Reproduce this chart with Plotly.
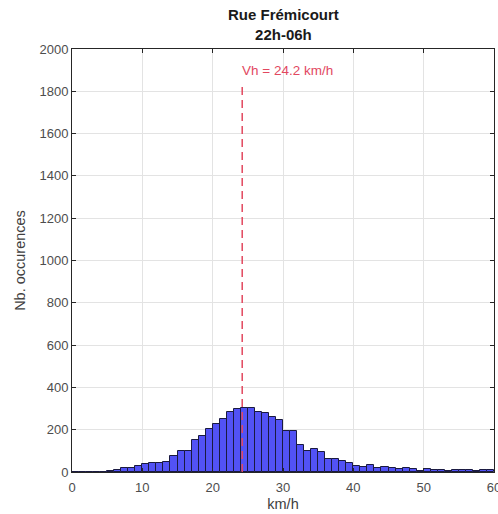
import plotly.graph_objects as go

bin_edges_left = list(range(0, 60))
counts = [0, 0, 0, 0, 1, 5, 10, 17, 18, 28,
          36, 42, 43, 48, 76, 98, 101, 151, 169, 203,
          226, 250, 283, 298, 301, 301, 283, 280, 258, 245,
          195, 195, 127, 97, 111, 94, 60, 60, 54, 41,
          27, 22, 33, 20, 24, 19, 14, 19, 16, 6,
          16, 11, 9, 5, 9, 9, 9, 6, 11, 11]
bin_width = 1
vh = 24.2
vh_line_top = 1840
vh_label = "Vh = 24.2 km/h"
title_lines = ["Rue Frémicourt", "22h-06h"]
x_ticks = [0, 10, 20, 30, 40, 50, 60]
y_ticks = [0, 200, 400, 600, 800, 1000, 1200, 1400, 1600, 1800, 2000]

centers = [b + bin_width / 2 for b in bin_edges_left]
FONT = "Liberation Sans, Arial"

fig = go.Figure()
fig.add_trace(go.Bar(
    x=centers, y=counts, width=bin_width,
    marker=dict(color="#5252f5", line=dict(color="#1a1a40", width=1)),
    showlegend=False,
))
fig.add_trace(go.Scatter(
    x=[vh, vh], y=[0, vh_line_top], mode="lines",
    line=dict(color="#e2485f", width=1.5, dash="8px,5px"),
    showlegend=False,
))
fig.add_annotation(
    x=vh, y=1900, text=vh_label, showarrow=False,
    xanchor="left", yanchor="middle", xshift=-2,
    font=dict(family=FONT, size=13.5, color="#e2485f"),
)
fig.add_annotation(
    xref="paper", yref="paper", x=0.5, y=1, yshift=4,
    xanchor="center", yanchor="bottom", showarrow=False,
    text="<br>".join(f"<b>{t}</b>" for t in title_lines),
    font=dict(family=FONT, size=15, color="#1a1a1a"),
)

axis_common = dict(
    showgrid=True, gridcolor="#e3e3e3", gridwidth=1,
    showline=True, linecolor="#262626", linewidth=1,
    mirror="ticks", ticks="inside", ticklen=4, tickcolor="#262626",
    zeroline=False, ticklabeloverflow="allow", automargin=False,
    tickfont=dict(family=FONT, size=13, color="#4d4d4d"),
)

fig.update_layout(
    width=498, height=514,
    margin=dict(l=72, r=4, t=49, b=42, autoexpand=False),
    paper_bgcolor="white", plot_bgcolor="white",
    bargap=0,
    xaxis=dict(range=[0, 60], tickvals=x_ticks, ticklabelstandoff=3,
               title=dict(text="km/h", standoff=5,
                          font=dict(family=FONT, size=14.5, color="#404040")),
               **axis_common),
    yaxis=dict(range=[0, 2000], tickvals=y_ticks,
               title=dict(text="Nb. occurences", standoff=10,
                          font=dict(family=FONT, size=14.5, color="#404040")),
               **axis_common),
)

fig.write_html("out.html", config={"displayModeBar": False})

# remove default page margin so the figure sits at the window's top-left corner
with open("out.html", "r", encoding="utf-8") as f:
    html = f.read()
html = html.replace("<head>", "<head><style>html,body{margin:0;padding:0;overflow:hidden;}</style>", 1)
with open("out.html", "w", encoding="utf-8") as f:
    f.write(html)
